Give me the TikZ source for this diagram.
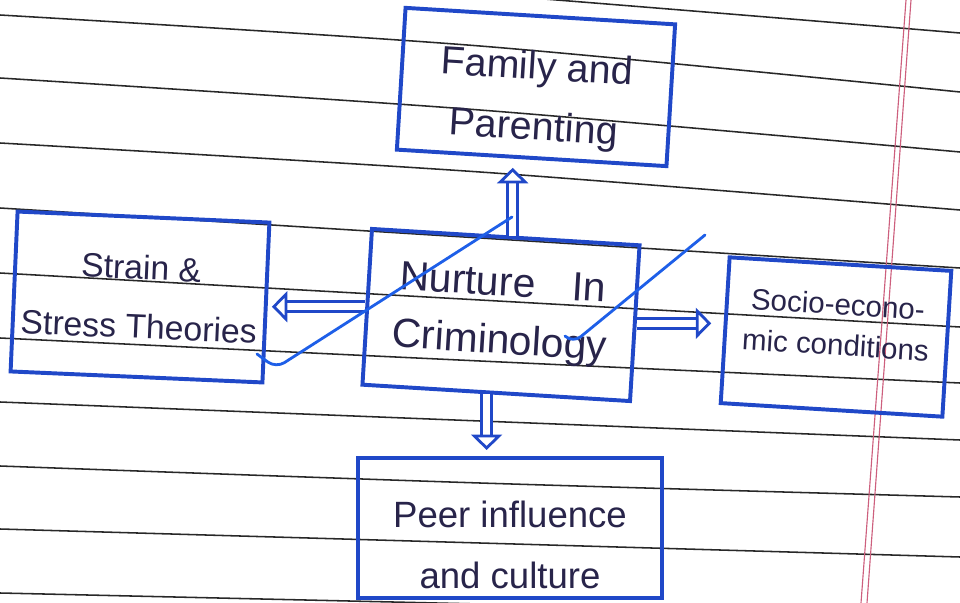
\documentclass[tikz,border=0pt]{standalone}
\usepackage{fontspec}
\setmainfont{Liberation Sans}
\usepackage{xcolor}
\usepackage{tikz}
\usetikzlibrary{positioning, arrows.meta, calc}

\definecolor{pen}{RGB}{32,72,200}
\definecolor{ink}{RGB}{40,36,74}
\definecolor{rule}{RGB}{40,40,40}
\definecolor{margin}{RGB}{205,95,125}
\definecolor{tick}{RGB}{30,95,232}

\begin{document}
\begin{tikzpicture}[x=0.025cm, y=-0.025cm,
  box/.style={draw=pen, line width=2.8pt, align=center, text=ink, inner sep=0pt},
  dblarrow/.style={draw=pen, line width=2pt, double=white, double distance=5pt,
    -{Triangle[fill=white, length=11pt, width=22pt, line width=2pt]}},
  paperline/.style={draw=rule, line width=1.1pt},
  redline/.style={draw=margin, line width=0.8pt},
  tickline/.style={draw=tick, line width=2pt, rounded corners=7pt, line cap=round}
]
\useasboundingbox (0,0) rectangle (960,603);
\fill[white] (0,0) rectangle (960,603);

% ruled paper
\begin{scope}
\clip (0,0) rectangle (960,603);
\foreach \ya/\ym/\yb in {-40/-6/33, 15/46/92, 78/110/152, 143/172/210, 208/238/268,
  273/300/327, 338/361/383, 402/421/440, 466/483/497, 529/543/557, 593/604/615}
  \draw[paperline] plot[smooth] coordinates {(0,\ya) (480,\ym) (960,\yb)};
\draw[redline] (906,0) -- (861,603);
\draw[redline] (911,0) -- (867,603);
\end{scope}

\node[box, minimum width=6.75cm, minimum height=3.55cm, rotate=-3.5,
  font=\fontsize{28}{43}\selectfont] (family) at (536,87)
  {\rule{0pt}{38pt}Family and\\Parenting};

\node[box, minimum width=6.3cm, minimum height=4cm, rotate=-2.5,
  font=\fontsize{24}{42}\selectfont] (strain) at (140,297) {Strain \&\\Stress Theories};

\node[box, minimum width=6.7cm, minimum height=3.9cm, rotate=-3.5,
  font=\fontsize{29}{41}\selectfont] (nurture) at (501,315)
  {Nurture\hspace{0.9em}In\\Criminology};

\node[box, minimum width=5.55cm, minimum height=3.65cm, rotate=-3.5,
  font=\fontsize{21}{29}\selectfont] (socio) at (836,337)
  {Socio-econo-\\mic conditions\rule[-18pt]{0pt}{0pt}};

\node[box, minimum width=7.6cm, minimum height=3.5cm,
  font=\fontsize{26}{43}\selectfont] (peer) at (510,528)
  {\rule{0pt}{43pt}Peer influence\\and culture};

\coordinate (nup) at ($(nurture.north)!0.05!(nurture.north east)$);
\coordinate (ndown) at ($(nurture.south)!0.07!(nurture.south west)$);

\draw[dblarrow, shorten >=0.2cm] (nup) -- (nup |- family.south);
\draw[dblarrow, shorten >=0.1cm] (nurture.west) -- (nurture.west -| strain.east);
\draw[dblarrow, shorten >=0.3cm] (nurture.east) -- (nurture.east -| socio.west);
\draw[dblarrow, shorten >=0.15cm] (ndown) -- (ndown |- peer.north);

% pen strokes across the page
\draw[tickline] (257,354) -- (276,368) -- (512,217);
\draw[tickline] (565,336) -- (573,343) -- (705,235);
\end{tikzpicture}
\end{document}
